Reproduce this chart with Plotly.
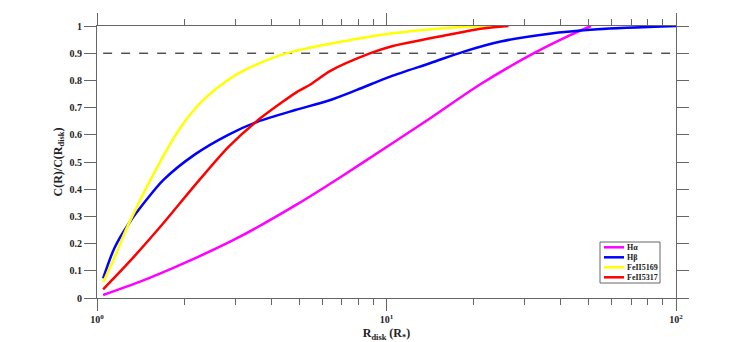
import plotly.graph_objects as go

# (x in R_sun units, y = C(R)/C(R_disk))
ha_x = [1.05, 1.41, 2.0, 3.01, 4.92, 6.95, 10.1, 14.2, 21.1, 32.3, 42.2, 50.8]
ha_y = [0.011, 0.06, 0.128, 0.217, 0.345, 0.445, 0.558, 0.662, 0.786, 0.90, 0.962, 1.0]

hb_x = [1.05, 1.15, 1.29, 1.48, 1.70, 2.18, 2.84, 3.58, 4.84, 6.28, 7.9, 10.3, 14.2, 18.5, 24.8, 36.0, 53.6, 100.0]
hb_y = [0.072, 0.185, 0.275, 0.36, 0.435, 0.528, 0.60, 0.648, 0.691, 0.725, 0.765, 0.814, 0.864, 0.906, 0.943, 0.971, 0.988, 1.0]

fe5169_x = [1.05, 1.15, 1.28, 1.68, 1.97, 2.33, 2.89, 3.5, 4.3, 5.2, 6.4, 9.53, 14.0, 19.5, 24.0]
fe5169_y = [0.058, 0.15, 0.268, 0.515, 0.636, 0.728, 0.808, 0.855, 0.893, 0.916, 0.935, 0.967, 0.987, 0.998, 1.0]

fe5317_x = [1.05, 1.28, 1.68, 2.18, 2.84, 3.57, 4.47, 4.91, 5.46, 6.4, 8.8, 10.3, 16.2, 21.1, 26.4]
fe5317_y = [0.032, 0.128, 0.27, 0.415, 0.555, 0.651, 0.728, 0.758, 0.785, 0.835, 0.90, 0.924, 0.967, 0.99, 1.0]

level = 0.9
level_x = [1.05, 100]

series = [
    ("H\u03b1", ha_x, ha_y, "#ff00ff"),
    ("H\u03b2", hb_x, hb_y, "#0000ff"),
    ("FeII5169", fe5169_x, fe5169_y, "#ffff00"),
    ("FeII5317", fe5317_x, fe5317_y, "#ff0000"),
]

fig = go.Figure()
fig.add_trace(go.Scatter(x=level_x, y=[level, level], mode="lines",
                         line=dict(color="black", width=1, dash="dash"),
                         showlegend=False, hoverinfo="skip"))
for name, xs, ys, col in series:
    fig.add_trace(go.Scatter(x=xs, y=ys, mode="lines", name=name, showlegend=False,
                             line=dict(color=col, width=2.5, shape="spline", smoothing=0.8)))

# page body adds 8px, so the figure is drawn 8px smaller and shifted back
off = 8
W, H = 747 - off, 342 - off
L, R, T, B = 97 - off, 676 - off, 26 - off, 298 - off
px = lambda v: (v - off - L) / (R - L)
py = lambda v: (B - (v - off)) / (B - T)
axcol = "#666666"

# hand-made legend box (MATLAB style: short line samples, tight rows)
fig.add_shape(type="rect", xref="paper", yref="paper",
              x0=px(600), x1=px(660), y0=py(283), y1=py(242),
              line=dict(color=axcol, width=1), fillcolor="white", layer="above")
for i, (name, xs, ys, col) in enumerate(series):
    yy = py(247.3 + 10 * i)
    fig.add_shape(type="line", xref="paper", yref="paper",
                  x0=px(604), x1=px(624), y0=yy, y1=yy,
                  line=dict(color=col, width=2.5), layer="above")
    fig.add_annotation(xref="paper", yref="paper", x=px(625), y=yy,
                       xanchor="left", yanchor="middle", showarrow=False,
                       text=name, font=dict(size=8, color="#222222"))

fig.update_layout(
    width=W, height=H,
    margin=dict(l=L, r=W - R, t=T, b=H - B),
    plot_bgcolor="white", paper_bgcolor="white",
    showlegend=False,
    font=dict(family="Liberation Serif", size=10, color="#222222", weight="bold"),
    xaxis=dict(type="log", range=[0, 2], showgrid=False, zeroline=False, automargin=False,
               showline=True, linecolor=axcol, linewidth=1, mirror="allticks",
               ticks="outside", ticklen=12, tickcolor=axcol,
               tickvals=[1, 10, 100],
               ticktext=["10<sup>0</sup>", "10<sup>1</sup>", "10<sup>2</sup>"],
               minor=dict(ticks="outside", ticklen=6, tickcolor=axcol,
                          tickvals=[2, 3, 4, 5, 6, 7, 8, 9, 20, 30, 40, 50, 60, 70, 80, 90]),
               title=dict(text="R<sub>disk</sub> (R<sub>*</sub>)", standoff=6)),
    yaxis=dict(range=[0, 1], showgrid=False, zeroline=False, automargin=False,
               showline=True, linecolor=axcol, linewidth=1, mirror="allticks",
               ticks="outside", ticklen=12, tickcolor=axcol,
               tickvals=[0, 0.1, 0.2, 0.3, 0.4, 0.5, 0.6, 0.7, 0.8, 0.9, 1],
               ticktext=["0", "0.1", "0.2", "0.3", "0.4", "0.5", "0.6", "0.7", "0.8", "0.9", "1"],
               title=dict(text="C(R)/C(R<sub>disk</sub>)", standoff=4)),
)

fig.write_html("out.html")
